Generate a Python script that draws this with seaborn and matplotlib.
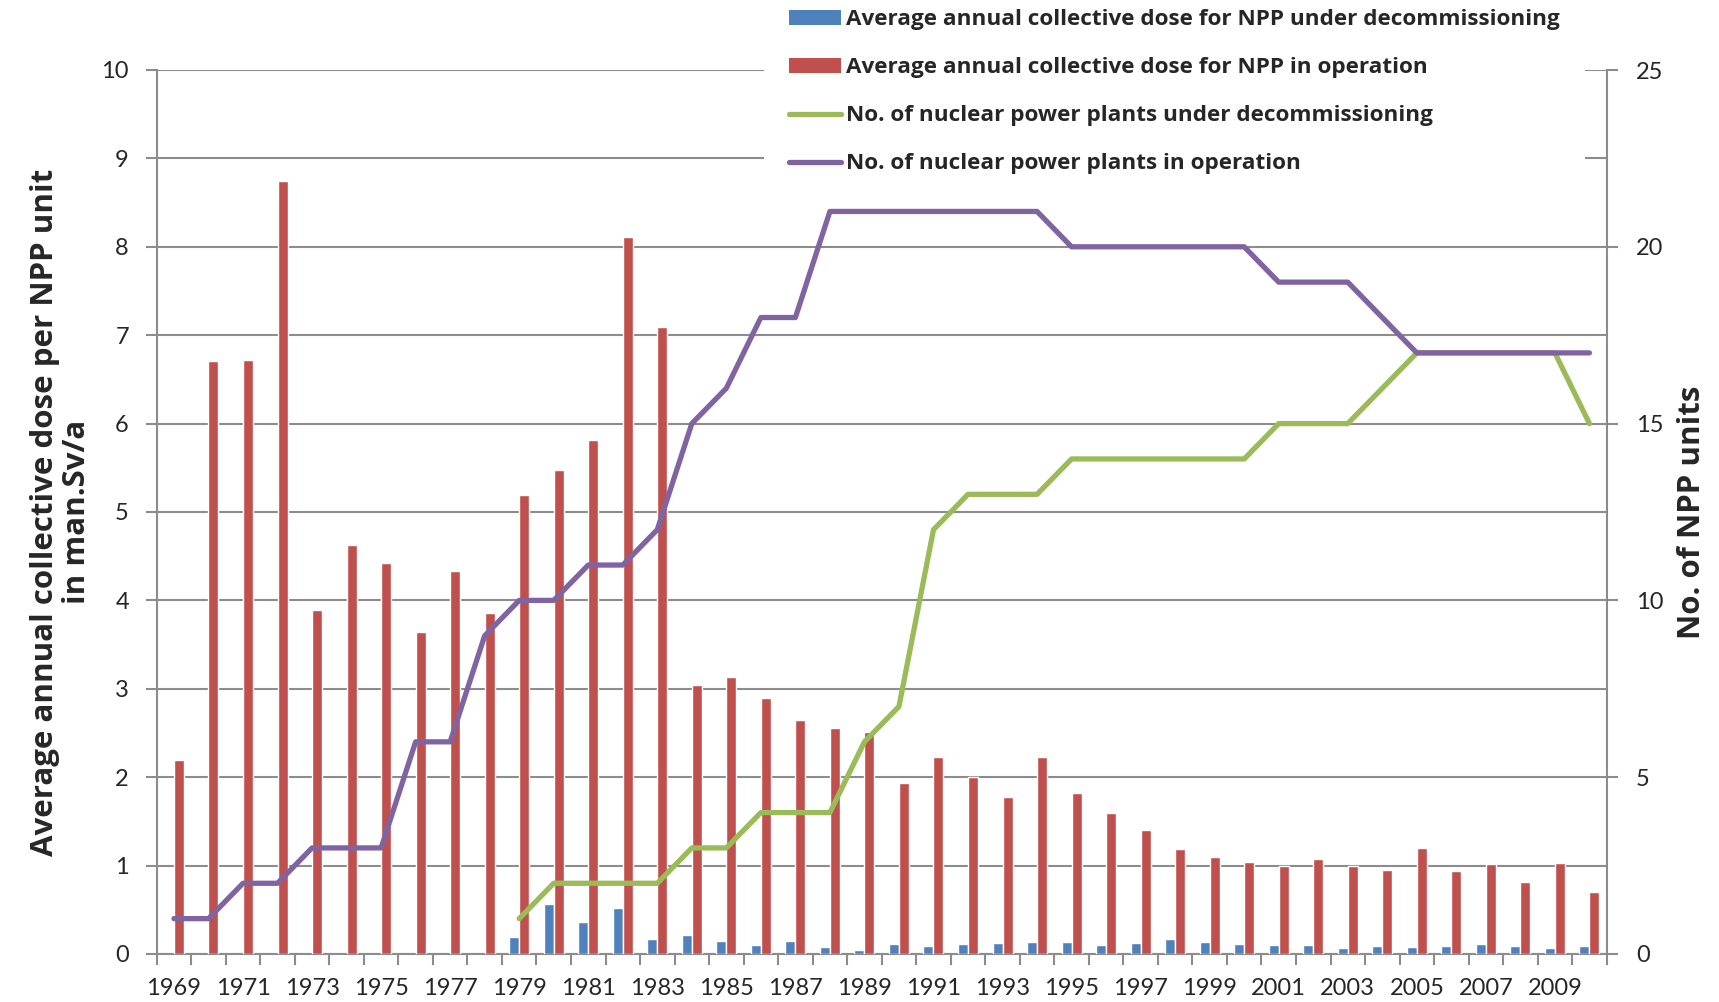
import numpy as np
import pandas as pd
import matplotlib
matplotlib.use("Agg")
import matplotlib.pyplot as plt
import seaborn as sns
from matplotlib.ticker import FixedLocator, NullFormatter
from matplotlib.patches import Patch
from matplotlib.lines import Line2D

# ---------------- data ----------------
years = list(range(1969, 2011))
dose_operation = [2.19, 6.71, 6.72, 8.74, 3.89, 4.63, 4.42, 3.64, 4.33, 3.86,
                  5.19, 5.48, 5.82, 8.11, 7.09, 3.04, 3.13, 2.90, 2.65, 2.56,
                  2.51, 1.93, 2.23, 2.00, 1.78, 2.23, 1.82, 1.60, 1.40, 1.19,
                  1.10, 1.04, 0.99, 1.08, 1.00, 0.95, 1.20, 0.94, 1.02, 0.81,
                  1.03, 0.70]
dose_decommissioning = [None] * 10 + [
    0.19, 0.56, 0.36, 0.52, 0.17, 0.22, 0.15, 0.105, 0.15, 0.083,
    0.05, 0.117, 0.086, 0.117, 0.128, 0.14, 0.135, 0.105, 0.128, 0.17,
    0.135, 0.113, 0.098, 0.105, 0.064, 0.087, 0.079, 0.087, 0.109, 0.094,
    0.068, 0.094]
npp_operation = [1, 1, 2, 2, 3, 3, 3, 6, 6, 9,
                 10, 10, 11, 11, 12, 15, 16, 18, 18, 21,
                 21, 21, 21, 21, 21, 21, 20, 20, 20, 20,
                 20, 20, 19, 19, 19, 18, 17, 17, 17, 17,
                 17, 17]
npp_decommissioning = [None] * 10 + [
    1, 2, 2, 2, 2, 3, 3, 4, 4, 4,
    6, 7, 12, 13, 13, 13, 14, 14, 14, 14,
    14, 14, 15, 15, 15, 16, 17, 17, 17, 17,
    17, 15]

lbl_bar_dec = "Average annual collective dose for NPP under decommissioning"
lbl_bar_op = "Average annual collective dose for NPP in operation"
lbl_line_dec = "No. of nuclear power plants under decommissioning"
lbl_line_op = "No. of nuclear power plants in operation"

left_ticks = list(range(0, 11))
right_ticks = [0, 5, 10, 15, 20, 25]

# ---------------- style ----------------
C_BLUE, C_RED, C_GREEN, C_PURPLE = "#4F81BD", "#C0504D", "#9BBB59", "#8064A2"
GRID = "#8C8C8C"
sns.set_style("white")
plt.rcParams["font.family"] = ["Lato", "DejaVu Sans"]
BOLD_FAMILY = ["Open Sans", "DejaVu Sans"]

W, H, DPI = 1719, 1002, 100
fig = plt.figure(figsize=(W / DPI, H / DPI), dpi=DPI)
ax1 = fig.add_axes([156.7 / W, 1 - 954 / H, (1606.7 - 156.7) / W, (954 - 70) / H])

# bars (long form)
bars = pd.DataFrame({
    "year": [str(y) for y in years] * 2,
    "dose": [np.nan if v is None else v for v in dose_decommissioning] + dose_operation,
    "series": [lbl_bar_dec] * len(years) + [lbl_bar_op] * len(years),
})
sns.barplot(data=bars, x="year", y="dose", hue="series",
            order=[str(y) for y in years], hue_order=[lbl_bar_dec, lbl_bar_op],
            palette=[C_BLUE, C_RED], saturation=1, width=0.58, gap=0,
            errorbar=None, ax=ax1, legend=False, zorder=3)

ax1.set_xlim(-0.5, len(years) - 0.5)
ax1.set_ylim(0, 10)
ax1.set_yticks(left_ticks)
ax1.set_yticklabels([str(t) for t in left_ticks])
ax1.set_axisbelow(True)
ax1.yaxis.grid(True, color=GRID, linewidth=1.5)
ax1.xaxis.grid(False)
ax1.set_xlabel("")
ax1.set_ylabel("")

# x ticks: labels every 2nd year at centers, tick marks at category boundaries
pos = np.arange(len(years))
ax1.xaxis.set_major_locator(FixedLocator(pos[::2]))
ax1.set_xticklabels([str(y) for y in years[::2]])
ax1.xaxis.set_minor_locator(FixedLocator(np.arange(-0.5, len(years), 1.0)))
ax1.xaxis.set_minor_formatter(NullFormatter())
ax1.tick_params(axis="x", which="major", length=0, pad=17, labelsize=17)
ax1.tick_params(axis="x", which="minor", length=8, width=1.5, color=GRID,
                direction="out", bottom=True)
ax1.tick_params(axis="y", which="major", length=8, width=1.5, color=GRID,
                direction="out", pad=12, labelsize=17, left=True)

for s in ["top", "right"]:
    ax1.spines[s].set_visible(False)
for s in ["left", "bottom"]:
    ax1.spines[s].set_color(GRID)
    ax1.spines[s].set_linewidth(1.5)

# lines on secondary axis
ax2 = ax1.twinx()
lines = pd.DataFrame({
    "idx": list(pos) * 2,
    "count": [np.nan if v is None else v for v in npp_decommissioning] + npp_operation,
    "series": [lbl_line_dec] * len(years) + [lbl_line_op] * len(years),
})
sns.lineplot(data=lines, x="idx", y="count", hue="series",
             hue_order=[lbl_line_dec, lbl_line_op], palette=[C_GREEN, C_PURPLE],
             linewidth=3.8, ax=ax2, legend=False, solid_capstyle="round",
             solid_joinstyle="round", zorder=5)
ax2.set_ylim(0, 25)
ax2.set_yticks(right_ticks)
ax2.set_yticklabels([str(t) for t in right_ticks])
ax2.set_xlim(-0.5, len(years) - 0.5)
ax2.set_xlabel("")
ax2.set_ylabel("")
ax2.grid(False)
ax2.tick_params(axis="y", which="major", length=8, width=1.5, color=GRID,
                direction="out", pad=13, labelsize=17, right=True)
for s in ["top", "left", "bottom"]:
    ax2.spines[s].set_visible(False)
ax2.spines["right"].set_color(GRID)
ax2.spines["right"].set_linewidth(1.5)

# legend
handles = [Patch(facecolor=C_BLUE, edgecolor="none"),
           Patch(facecolor=C_RED, edgecolor="none"),
           Line2D([], [], color=C_GREEN, linewidth=3.8, solid_capstyle="round"),
           Line2D([], [], color=C_PURPLE, linewidth=3.8, solid_capstyle="round")]
labels = [lbl_bar_dec, lbl_bar_op, lbl_line_dec, lbl_line_op]
leg = ax2.legend(handles, labels, loc="center left",
                 bbox_to_anchor=(764 / W, 1 - 92 / H), bbox_transform=fig.transFigure,
                 frameon=True, facecolor="white", edgecolor="none", framealpha=1,
                 fancybox=False,
                 prop={"family": BOLD_FAMILY, "weight": "bold", "size": 16.2},
                 handlelength=2.3, handleheight=0.6, handletextpad=0.25,
                 labelspacing=1.2, borderpad=1.1, borderaxespad=0)
leg.set_zorder(10)

# axis titles
fig.text(61 / W, 1 - 512 / H,
         "Average annual collective dose per NPP unit\nin man.Sv/a",
         rotation=90, ha="center", va="center", fontsize=22.5, fontweight="bold",
         family=BOLD_FAMILY, linespacing=1.08)
fig.text(1692 / W, 1 - 512 / H, "No. of NPP units", rotation=90,
         ha="center", va="center", fontsize=22.5, fontweight="bold",
         family=BOLD_FAMILY)

fig.savefig("out.png", dpi=DPI)
